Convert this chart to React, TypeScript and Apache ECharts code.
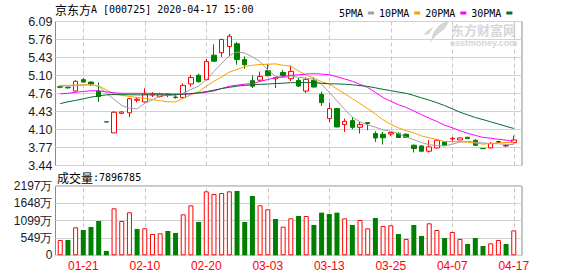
import React, { useEffect, useRef } from 'react';
import * as echarts from 'echarts';

// ---- data ----
const dates = [
  '01-16','01-17','01-20','01-21','01-22','01-23','02-03','02-04','02-05','02-06',
  '02-07','02-10','02-11','02-12','02-13','02-14','02-17','02-18','02-19','02-20',
  '02-21','02-24','02-25','02-26','02-27','02-28','03-02','03-03','03-04','03-05',
  '03-06','03-09','03-10','03-11','03-12','03-13','03-16','03-17','03-18','03-19',
  '03-20','03-23','03-24','03-25','03-26','03-27','03-30','03-31','04-01','04-02',
  '04-03','04-07','04-08','04-09','04-10','04-13','04-14','04-15','04-16','04-17',
];
const opens = [
  4.89,4.88,4.81,5.02,4.975,4.81,4.245,4.04,4.40,4.41,
  4.64,4.61,4.74,4.71,4.75,4.70,4.69,4.94,5.10,5.02,
  5.47,5.515,5.63,5.68,5.39,5.00,5.01,5.185,5.035,5.153,
  5.038,5.007,4.81,5.007,4.749,4.303,4.487,4.193,4.266,4.143,
  4.23,4.028,4.015,4.02,4.028,4.015,3.813,3.80,3.703,3.763,
  3.873,3.93,3.91,3.96,3.905,3.755,3.763,3.873,3.80,3.86,
];
const closes = [
  4.88,4.87,4.99,4.975,4.94,4.71,4.24,4.42,4.425,4.67,
  4.66,4.75,4.755,4.76,4.74,4.69,4.915,5.06,4.98,5.355,
  5.36,5.76,5.82,5.39,5.295,4.90,5.08,5.093,5.06,5.098,
  5.172,4.902,5.025,4.884,4.597,4.487,4.149,4.254,4.143,4.193,
  4.211,3.947,3.95,4.046,3.955,3.958,3.752,3.703,3.782,3.905,
  3.813,3.94,3.947,3.935,3.813,3.75,3.844,3.873,3.81,3.91,
];
const lows = [
  4.86,4.85,4.80,4.97,4.90,4.61,4.24,4.04,4.39,4.33,
  4.60,4.60,4.70,4.69,4.70,4.67,4.69,4.89,4.97,5.01,
  5.35,5.435,5.45,5.295,5.22,4.865,4.975,5.08,4.865,5.06,
  4.994,4.885,4.773,4.88,4.535,4.24,4.143,4.057,4.107,4.028,
  4.09,3.873,3.826,3.984,3.95,3.95,3.679,3.70,3.679,3.752,
  3.80,3.886,3.91,3.935,3.80,3.745,3.75,3.86,3.78,3.85,
];
const highs = [
  4.91,4.89,5.01,5.05,4.99,4.97,4.245,4.44,4.44,4.68,
  4.69,4.86,4.79,4.78,4.77,4.76,4.95,5.11,5.13,5.40,
  5.67,5.77,5.86,5.71,5.45,5.10,5.17,5.31,5.06,5.20,
  5.28,5.05,5.05,5.06,4.80,4.597,4.49,4.303,4.333,4.24,
  4.23,4.07,4.057,4.046,4.05,4.03,3.826,3.81,3.905,3.923,
  3.88,3.965,3.96,3.96,3.92,3.76,3.873,3.89,3.83,3.99,
];
const prevClose = 4.86; // close before the first day
const lastVolume = 7896785;
// volume in 万
const volumes = [
  486,486,887,803,898,1088,137,1489,1088,1363,
  834,856,676,697,771,708,1299,1584,1056,2028,
  1944,1975,2028,2039,1056,1880,1584,1458,1151,908,
  1172,1246,1246,961,1352,1310,1352,1172,961,1120,
  856,1183,930,951,676,518,961,613,1014,803,
  549,739,518,359,549,296,380,486,359,789.6785,
];
const ma5 = [
  4.905,4.905,4.91,4.92,4.931,4.897,4.771,4.657,4.546,4.492,
  4.482,4.584,4.649,4.717,4.731,4.737,4.77,4.84,4.90,5.02,
  5.17,5.32,5.46,5.53,5.51,5.44,5.35,5.20,5.085,5.055,
  5.085,5.062,5.05,5.025,4.936,4.787,4.631,4.472,4.331,4.242,
  4.188,4.145,4.096,4.069,4.029,3.963,3.915,3.863,3.822,3.808,
  3.80,3.832,3.87,3.885,3.867,3.855,3.842,3.84,3.83,3.825,
];
const ma10 = [
  4.915,4.915,4.92,4.924,4.924,4.905,4.832,4.758,4.731,4.712,
  4.69,4.678,4.653,4.632,4.612,4.61,4.677,4.741,4.797,4.90,
  4.99,5.07,5.16,5.207,5.262,5.283,5.30,5.303,5.311,5.285,
  5.267,5.181,5.102,5.051,4.981,4.94,4.847,4.763,4.671,4.581,
  4.485,4.389,4.281,4.197,4.133,4.08,4.04,3.985,3.949,3.92,
  3.88,3.88,3.88,3.869,3.854,3.834,3.843,3.86,3.863,3.864,
];
const ma20 = [
  4.759,4.768,4.786,4.804,4.814,4.814,4.795,4.777,4.768,4.768,
  4.768,4.768,4.768,4.762,4.759,4.753,4.749,4.759,4.771,4.789,
  4.812,4.857,4.898,4.919,4.937,4.946,4.988,5.022,5.054,5.075,
  5.101,5.109,5.123,5.129,5.122,5.111,5.073,5.033,4.991,4.933,
  4.876,4.785,4.691,4.624,4.557,4.51,4.443,4.374,4.31,4.25,
  4.182,4.134,4.08,4.033,3.994,3.957,3.942,3.923,3.906,3.892,
];
const ma30 = [
  4.579,4.612,4.639,4.667,4.698,4.722,4.74,4.746,4.744,4.742,
  4.74,4.74,4.74,4.74,4.74,4.744,4.753,4.764,4.779,4.801,
  4.826,4.856,4.878,4.9,4.915,4.924,4.933,4.94,4.948,4.954,
  4.964,4.965,4.966,4.963,4.952,4.944,4.941,4.936,4.926,4.91,
  4.895,4.869,4.842,4.818,4.792,4.768,4.729,4.684,4.644,4.595,
  4.544,4.483,4.421,4.372,4.323,4.285,4.243,4.203,4.161,4.121,
];
const priceTicks = ['3.44','3.77','4.10','4.43','4.76','5.10','5.43','5.76','6.09'];
const volumeTicks = ['0','549万','1099万','1648万','2197万'];
const volumeMax = 2197;
const dateTicks = ['01-21','02-10','02-20','03-03','03-13','03-25','04-07','04-17'];
const maNames = ['5PMA','10PMA','20PMA','30PMA'];
const maSeries = [ma5, ma10, ma20, ma30];
const stockName = '京东方';
const stockRest = 'A [000725] 2020-04-17 15:00';

// ---- styles ----
const RED = '#ff0000';
const GREEN = '#008000';
const maColors = ['#a0a0a0', '#f5a300', '#ff00ff', '#066b2e'];
const FRAME = '#8c8c8c';
const GRID_LINE = '#d2d2d2';
const DASH = '#c6c6c6';
const LABEL = '#1a1a2a';
const WATERMARK = '#d6d6d6';
const SANS = '"Liberation Sans", Arial, sans-serif';
const MONO = '"DejaVu Sans Mono", monospace';
const CJK = '"Noto Sans CJK SC", sans-serif';

const LOGO_PATH =
  'M24 0 C16 2 9 9 8 16 L6 22 C10 17 13 13 18 10 C21 8 24 4 24 0 Z M10 6 C5 8 1 11 0 14 L5 13 C6 11 8 8 10 6 Z';
echarts.graphic.registerShape('emLogo', echarts.graphic.extendPath(LOGO_PATH, {}));

const FRAME_L = 55.5;
const FRAME_W = 466.5;
const DATA_L = 56.4;
const DATA_W = 461.2;
const P_TOP = 21.5;
const P_H = 144;
const V_TOP = 186;
const V_H = 69.3;

export default function App() {
  const ref = useRef<HTMLDivElement>(null);
  useEffect(() => {
    if (!ref.current) return;
    const chart = echarts.init(ref.current, null, { renderer: 'svg' });
    const pMin = Number(priceTicks[0]);
    const pMax = Number(priceTicks[priceTicks.length - 1]);
    const pInt = (pMax - pMin) / (priceTicks.length - 1);
    const vInt = volumeMax / (volumeTicks.length - 1);

    const candleData = dates.map((_, i) => [opens[i], closes[i], lows[i], highs[i]]);
    const volData = volumes.map((v, i) => {
      const ref0 = i === 0 ? prevClose : closes[i - 1];
      const up = closes[i] >= ref0;
      return {
        value: v,
        itemStyle: up
          ? { color: '#ffffff', borderColor: RED, borderWidth: 1 }
          : { color: GREEN, borderColor: GREEN, borderWidth: 0 },
      };
    });
    const dashLines = {
      silent: true,
      z: 1,
      symbol: ['none', 'none'],
      label: { show: false },
      emphasis: { disabled: true },
      lineStyle: { type: [4, 3], color: DASH, width: 1 },
      data: dateTicks.map((d) => ({ xAxis: d })),
    };

    chart.setOption({
      animation: false,
      legend: {
        data: maNames,
        left: 334,
        top: 3,
        padding: 5,
        itemWidth: 6,
        itemHeight: 3,
        itemGap: 5,
        align: 'right',
        icon: 'rect',
        selectedMode: false,
        textStyle: { fontFamily: MONO, fontSize: 10, color: '#000' },
      },
      grid: [
        { left: FRAME_L, top: P_TOP, width: FRAME_W, height: P_H, show: true, borderColor: FRAME, borderWidth: 1, backgroundColor: 'transparent' },
        { left: DATA_L, top: P_TOP, width: DATA_W, height: P_H },
        { left: FRAME_L, top: V_TOP, width: FRAME_W, height: V_H, show: true, borderColor: FRAME, borderWidth: 1, backgroundColor: 'transparent' },
        { left: DATA_L, top: V_TOP, width: DATA_W, height: V_H },
      ],
      xAxis: [
        { type: 'value', gridIndex: 0, min: 0, max: 1, show: false },
        { type: 'category', gridIndex: 1, data: dates, show: false, boundaryGap: true },
        { type: 'value', gridIndex: 2, min: 0, max: 1, show: false },
        {
          type: 'category',
          gridIndex: 3,
          data: dates,
          boundaryGap: true,
          axisLine: { show: false },
          axisTick: { show: false },
          splitLine: { show: false },
          axisLabel: {
            interval: (_i: number, v: string) => dateTicks.includes(v),
            color: RED,
            fontSize: 12,
            fontFamily: SANS,
            margin: 5,
          },
        },
      ],
      yAxis: [
        {
          type: 'value',
          gridIndex: 0,
          min: pMin,
          max: pMax,
          interval: pInt,
          axisLine: { show: false },
          axisTick: { show: false },
          splitLine: { show: true, lineStyle: { color: GRID_LINE, width: 1 } },
          axisLabel: {
            color: LABEL,
            fontSize: 12.5,
            fontFamily: SANS,
            margin: 3,
            formatter: (v: number) => priceTicks[Math.round((v - pMin) / pInt)] ?? '',
          },
        },
        { type: 'value', gridIndex: 1, min: pMin, max: pMax, show: false, splitLine: { show: false } },
        {
          type: 'value',
          gridIndex: 2,
          min: 0,
          max: volumeMax,
          interval: vInt,
          axisLine: { show: false },
          axisTick: { show: false },
          splitLine: { show: true, lineStyle: { color: GRID_LINE, width: 1 } },
          axisLabel: {
            color: LABEL,
            fontSize: 12,
            fontFamily: SANS,
            margin: 3,
            formatter: (v: number) => volumeTicks[Math.round(v / vInt)] ?? '',
          },
        },
        { type: 'value', gridIndex: 3, min: 0, max: volumeMax, show: false, splitLine: { show: false } },
      ],
      series: [
        {
          type: 'candlestick',
          name: 'K',
          xAxisIndex: 1,
          yAxisIndex: 1,
          data: candleData,
          barWidth: 5,
          itemStyle: {
            color: '#ffffff',
            color0: GREEN,
            borderColor: RED,
            borderColor0: GREEN,
            borderColorDoji: '#000000',
            borderWidth: 1,
          },
          markLine: dashLines,
        },
        ...maSeries.map((d, k) => ({
          type: 'line',
          name: maNames[k],
          xAxisIndex: 1,
          yAxisIndex: 1,
          data: d,
          showSymbol: false,
          symbol: 'none',
          z: 3,
          itemStyle: { color: maColors[k] },
          lineStyle: { color: maColors[k], width: 1 },
        })),
        {
          type: 'bar',
          name: '成交量',
          xAxisIndex: 3,
          yAxisIndex: 3,
          data: volData,
          barWidth: 5,
          markLine: dashLines,
        },
      ],
      graphic: [
        {
          type: 'group',
          silent: true,
          z: 0,
          children: [
            { type: 'emLogo', x: 424, y: 21, scaleX: 1, scaleY: 1, style: { fill: WATERMARK } },
            {
              type: 'text',
              x: 451,
              y: 29,
              style: { text: '东方财富网', fontFamily: CJK, fontSize: 13, fontWeight: 'bold', fill: WATERMARK, verticalAlign: 'middle' },
            },
            {
              type: 'text',
              x: 450,
              y: 42.5,
              style: { text: 'eastmoney.com', fontFamily: SANS, fontSize: 9, fontWeight: 'bold', fill: WATERMARK, verticalAlign: 'middle' },
            },
          ],
        },
        {
          type: 'text',
          x: 55,
          y: 9,
          style: {
            text: `{a|${stockName}}{b|${stockRest}}`,
            verticalAlign: 'middle',
            fill: '#000',
            rich: {
              a: { fontFamily: CJK, fontSize: 12, fill: '#000' },
              b: { fontFamily: MONO, fontSize: 10, fill: '#000' },
            },
          },
        },
        {
          type: 'text',
          x: 57,
          y: 177,
          style: {
            text: `{a|成交量}{b|:${lastVolume}}`,
            verticalAlign: 'middle',
            fill: '#000',
            rich: {
              a: { fontFamily: CJK, fontSize: 12, fill: '#000' },
              b: { fontFamily: MONO, fontSize: 10, fill: '#000' },
            },
          },
        },
      ],
    });
    return () => chart.dispose();
  }, []);
  return (
    <div
      ref={ref}
      style={{ position: 'fixed', left: 0, top: 0, width: 578, height: 276, background: '#ffffff' }}
    />
  );
}
